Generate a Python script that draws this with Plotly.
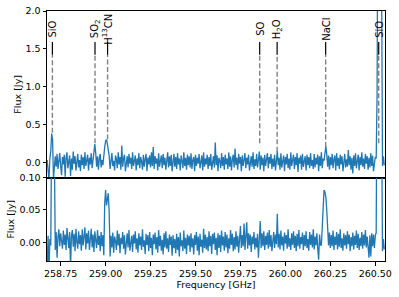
import numpy as np
import plotly.graph_objects as go
from plotly.subplots import make_subplots

# ---------------- data ----------------
f_start = 258.675   # GHz, first channel
f_step = 0.005      # GHz, channel width
n_chan = 376

# upper panel spectrum (Jy)
flux_top = [
    0.03, -0.12, -0.24, 0.05, 0.15, 0.38, 0.30, -0.22, 0.02, 0.08, -0.06, 0.11, -0.09, 0.04, 0.12, -0.05, -0.17, 0.07, -0.03, 0.10,
    -0.19, 0.06, 0.13, -0.08, 0.02, 0.09, -0.18, 0.05, -0.10, 0.14, -0.02, 0.08, -0.11, 0.06, 0.11, -0.07, 0.03, -0.12, 0.10, -0.04,
    0.07, -0.09, 0.13, -0.05, 0.01, 0.10, -0.11, 0.06, -0.03, 0.12, -0.08, 0.04, 0.09, 0.24, 0.12, -0.06, 0.08, -0.10, 0.05, 0.11,
    -0.07, 0.03, -0.04, 0.12, 0.20, 0.28, 0.30, 0.24, 0.18, 0.08, -0.09, 0.06, 0.12, -0.05, 0.02, -0.11, 0.09, 0.04, -0.08, 0.13,
    -0.03, 0.07, -0.10, 0.22, -0.06, 0.05, 0.10, -0.12, 0.03, 0.08, -0.07, 0.11, -0.02, 0.06, -0.09, 0.13, -0.05, 0.02, 0.09, -0.11,
    0.05, -0.04, 0.12, -0.08, 0.07, 0.01, -0.10, 0.10, -0.06, 0.04, 0.11, -0.12, 0.06, -0.03, 0.09, -0.07, 0.13, -0.05, 0.20, -0.09,
    0.08, -0.02, 0.05, -0.11, 0.12, -0.06, 0.03, 0.09, -0.08, 0.11, -0.04, 0.06, -0.10, 0.02, 0.13, -0.07, 0.08, -0.05, 0.10, -0.12,
    0.04, 0.11, -0.06, 0.07, -0.09, 0.12, -0.03, 0.05, -0.11, 0.09, 0.02, -0.08, 0.13, -0.05, 0.06, -0.10, 0.10, -0.04, 0.08, -0.07,
    0.12, -0.09, 0.03, 0.07, -0.12, 0.10, -0.05, 0.06, -0.02, 0.11, -0.08, 0.04, 0.09, -0.11, 0.13, -0.06, 0.05, -0.03, 0.10, -0.09,
    0.07, -0.05, 0.11, -0.10, 0.04, 0.08, -0.07, 0.26, -0.04, 0.09, -0.12, 0.06, 0.02, -0.08, 0.12, -0.05, 0.07, -0.10, 0.10, -0.03,
    0.05, -0.09, 0.13, -0.06, 0.08, -0.11, 0.04, 0.10, -0.07, 0.18, -0.04, 0.06, -0.10, 0.11, -0.02, 0.07, -0.12, 0.09, -0.05, 0.03,
    0.12, -0.08, 0.06, -0.03, 0.10, -0.11, 0.05, 0.08, -0.06, 0.13, -0.09, 0.04, -0.05, 0.11, -0.07, 0.07, 0.14, -0.10, 0.09, -0.04,
    0.06, -0.12, 0.10, -0.05, 0.03, 0.12, -0.08, 0.07, -0.02, 0.11, -0.09, 0.05, -0.06, 0.10, -0.11, 0.08, 0.15, -0.04, 0.06, -0.10,
    0.12, -0.07, 0.04, 0.09, -0.12, 0.07, -0.03, 0.11, -0.08, 0.05, -0.10, 0.13, -0.05, 0.02, 0.10, -0.09, 0.07, -0.04, 0.12, -0.13,
    0.06, -0.02, 0.09, -0.10, 0.11, -0.06, 0.04, 0.08, -0.11, 0.10, -0.04, 0.07, -0.08, 0.12, -0.05, 0.03, -0.09, 0.11, -0.07, 0.06,
    -0.03, 0.10, -0.12, 0.08, -0.05, 0.13, -0.08, 0.05, 0.02, 0.12, 0.21, 0.10, -0.06, 0.09, -0.10, 0.07, -0.04, 0.11, -0.08, 0.04,
    0.09, -0.11, 0.12, -0.05, 0.06, -0.09, 0.10, -0.03, 0.08, -0.12, 0.05, 0.11, -0.07, 0.04, -0.06, 0.16, -0.04, 0.08, -0.10, 0.06,
    -0.15, 0.09, -0.05, 0.12, -0.08, 0.03, 0.10, -0.11, 0.07, -0.04, 0.13, -0.06, 0.05, -0.09, 0.11, -0.02, 0.08, -0.10, 0.06, -0.07,
    0.12, -0.05, 0.09, -0.12, 0.04, 0.07, 0.05, 0.90, 4.00, 7.00, 6.00, 4.00, 2.50, -0.05, 0.08, -0.04,
]

# lower panel spectrum (Jy)
flux_bottom = [
    -0.040, 0.010, -0.045, 0.005, -0.005, 0.200, 0.380, 0.300, 0.150, -0.012, 0.016, -0.024, 0.008, 0.020, -0.006, 0.014, 0.002, -0.010, 0.018, -0.004,
    0.012, -0.012, 0.022, 0.004, -0.009, 0.016, -0.040, 0.010, 0.019, -0.007, 0.013, -0.014, 0.021, 0.001, -0.010, 0.017, -0.003, 0.011, -0.013, 0.020,
    -0.005, 0.009, 0.023, -0.011, 0.014, -0.002, 0.018, -0.012, 0.008, 0.021, -0.008, 0.012, -0.015, 0.017, 0.003, -0.009, 0.019, -0.004, 0.010, -0.014,
    0.016, -0.006, 0.011, -0.020, 0.060, 0.081, 0.057, 0.068, 0.076, 0.045, -0.022, 0.010, -0.008, 0.015, -0.016, 0.009, 0.002, -0.012, 0.018, -0.005,
    0.013, -0.017, 0.007, -0.003, 0.016, -0.010, 0.011, -0.019, 0.005, 0.014, -0.008, 0.019, -0.013, 0.004, 0.010, -0.015, 0.012, -0.002, 0.017, -0.011,
    0.006, -0.016, 0.014, -0.005, 0.009, -0.012, 0.020, -0.007, 0.003, -0.018, 0.013, -0.004, 0.011, -0.014, 0.016, -0.009, 0.007, -0.020, 0.012, -0.003,
    0.015, -0.011, 0.008, -0.016, 0.019, -0.006, 0.010, -0.013, 0.004, -0.019, 0.014, -0.008, 0.017, -0.010, 0.006, -0.015, 0.012, -0.004, 0.009, -0.021,
    0.011, -0.009, 0.005, -0.017, 0.013, -0.012, 0.008, -0.022, 0.015, -0.006, 0.003, -0.014, 0.018, -0.010, 0.007, -0.018, 0.012, -0.005, 0.010, -0.015,
    0.014, -0.008, 0.006, -0.019, 0.011, -0.004, 0.016, -0.013, 0.009, -0.020, 0.013, -0.007, 0.004, -0.016, 0.021, -0.009, 0.012, -0.011, 0.008, -0.014,
    0.017, -0.006, 0.010, -0.018, 0.013, -0.003, 0.015, -0.012, 0.007, -0.020, 0.014, -0.009, 0.011, -0.015, 0.018, -0.005, 0.009, -0.013, 0.016, -0.008,
    0.012, -0.017, 0.006, -0.010, 0.019, -0.004, 0.013, -0.014, 0.008, -0.011, 0.017, -0.007, 0.010, -0.016, 0.014, 0.025, -0.009, 0.011, -0.006, 0.029,
    -0.012, 0.008, 0.031, -0.010, 0.014, -0.005, 0.012, -0.015, 0.009, -0.003, 0.016, -0.011, 0.007, -0.008, 0.013, -0.024, 0.010, 0.033, -0.009, 0.014,
    -0.006, 0.017, -0.012, 0.010, -0.004, 0.015, -0.010, 0.019, -0.007, 0.011, -0.014, 0.008, 0.016, -0.009, 0.012, -0.003, 0.044, -0.008, 0.013, -0.011,
    0.018, -0.005, 0.009, -0.013, 0.015, -0.002, 0.011, -0.010, 0.020, -0.007, 0.006, -0.012, 0.014, -0.004, 0.017, -0.009, 0.010, -0.014, 0.013, -0.006,
    0.019, -0.010, 0.008, -0.003, 0.015, -0.012, 0.011, -0.006, 0.017, -0.009, 0.005, -0.013, 0.016, -0.004, 0.012, -0.008, 0.020, -0.011, 0.009, -0.005,
    0.014, -0.010, -0.027, 0.012, -0.004, -0.005, 0.030, 0.060, 0.081, 0.078, 0.070, 0.050, 0.020, -0.005, 0.015, -0.009, 0.011, -0.006, 0.018, -0.012,
    0.009, -0.004, 0.016, -0.011, 0.013, -0.007, 0.020, -0.009, 0.006, -0.013, 0.014, -0.005, 0.011, -0.010, 0.017, -0.003, 0.012, -0.014, 0.008, -0.006,
    0.015, -0.011, 0.010, -0.004, 0.018, -0.009, 0.013, -0.012, 0.007, -0.006, 0.016, -0.010, 0.012, -0.005, 0.019, -0.008, 0.009, -0.013, -0.024, 0.011,
    -0.022, 0.014, -0.006, 0.012, -0.009, 0.010, 0.015, 0.300, 0.500, 0.600, 0.550, 0.400, 0.200, -0.014, 0.005, -0.011,
]

# line identifications
line_names = ["SiO", "SO<sub>2</sub>", "H<sup>13</sup>CN", "SO",
              "H<sub>2</sub>O", "NaCl", "SiO"]
line_freqs = [258.704, 258.941, 259.011, 259.857, 259.954, 260.224, 260.519]
line_base = [0.39, 0.25, 0.30, 0.25, 0.14, 0.20, 0.25]   # Jy, where marker ends

freq = f_start + f_step * np.arange(n_chan)

# ---------------- figure ----------------
blue = "#1f77b4"
font_fam = "DejaVu Sans"

fig = make_subplots(rows=2, cols=1, shared_xaxes=True,
                    vertical_spacing=0, row_heights=[2, 1])

fig.add_trace(go.Scatter(x=freq, y=flux_top, mode="lines",
                         line=dict(color=blue, width=1.3),
                         showlegend=False), row=1, col=1)
fig.add_trace(go.Scatter(x=freq, y=flux_bottom, mode="lines",
                         line=dict(color=blue, width=1.3),
                         showlegend=False), row=2, col=1)

seg_bot = 1.42
seg_top = 1.59
for name, f0, yb in zip(line_names, line_freqs, line_base):
    fig.add_shape(type="line", xref="x", yref="y", x0=f0, x1=f0,
                  y0=yb, y1=seg_bot, layer="above",
                  line=dict(color="#808080", width=1.4, dash="5px,2.5px"))
    fig.add_shape(type="line", xref="x", yref="y", x0=f0, x1=f0,
                  y0=seg_bot, y1=seg_top, layer="above",
                  line=dict(color="black", width=1.2))
    fig.add_annotation(x=f0, y=1.76, xref="x", yref="y", text=name,
                       textangle=-90, showarrow=False,
                       xanchor="center", yanchor="middle",
                       font=dict(family=font_fam, size=10, color="black"))

axis_common = dict(showline=True, linecolor="black", linewidth=1,
                   mirror=True, ticks="outside", ticklen=3.5, tickwidth=0.9,
                   tickcolor="black", showgrid=False, zeroline=False,
                   automargin=False,
                   tickfont=dict(family=font_fam, size=9.5, color="black"))

fig.update_xaxes(**axis_common)
fig.update_xaxes(range=[258.674, 260.554],
                 tickvals=[258.75, 259.0, 259.25, 259.5, 259.75, 260.0, 260.25, 260.5],
                 tickformat=".2f")
fig.update_xaxes(ticks="", row=1, col=1)
fig.update_xaxes(title=dict(text="Frequency [GHz]", standoff=3,
                            font=dict(family=font_fam, size=9.5, color="black")),
                 row=2, col=1)

fig.update_yaxes(**axis_common)
fig.update_yaxes(range=[-0.204, 2.0], tickvals=[0, 0.5, 1.0, 1.5, 2.0],
                 tickformat=".1f",
                 title=dict(text="Flux [Jy]", standoff=2,
                            font=dict(family=font_fam, size=9.5, color="black")),
                 row=1, col=1)
fig.update_yaxes(range=[-0.029, 0.10], tickvals=[0, 0.05, 0.10],
                 tickformat=".2f",
                 title=dict(text="Flux [Jy]", standoff=3,
                            font=dict(family=font_fam, size=9.5, color="black")),
                 row=2, col=1)

fig.update_layout(width=399, height=297,
                  margin=dict(l=47, r=14, t=11, b=36),
                  paper_bgcolor="white", plot_bgcolor="white",
                  font=dict(family=font_fam, size=9.5, color="black"))

# remove the browser's default 8 px page margin so the figure fills the window
fig.write_html("out.html",
               config={"displayModeBar": False},
               post_script="document.body.style.margin='0';")
